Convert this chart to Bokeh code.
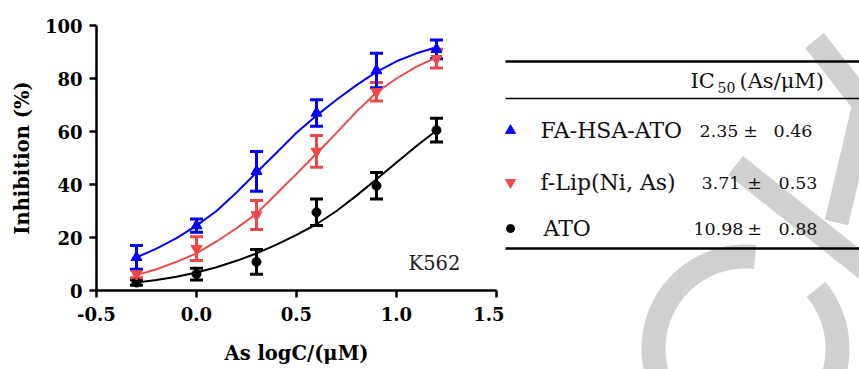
import numpy as np
from bokeh.plotting import figure
from bokeh.models import (Range1d, Whisker, ColumnDataSource, FixedTicker, TeeHead, Label,
                          NumeralTickFormatter, Plot)
from bokeh.layouts import row
from bokeh.embed import file_html
from bokeh.resources import INLINE
from bokeh.core.properties import value

# ---------------- data ----------------
log_conc = [-0.3, 0.0, 0.3, 0.6, 0.9, 1.2]

fa_mean = [12.5, 24.5, 45.0, 67.0, 83.0, 91.0]
fa_err = [4.5, 2.5, 7.5, 5.0, 6.5, 3.5]
lip_mean = [6.3, 15.8, 28.5, 52.5, 75.0, 87.5]
lip_err = [1.5, 4.5, 5.5, 6.0, 3.5, 3.5]
ato_mean = [3.0, 6.2, 10.8, 29.5, 39.5, 60.5]
ato_err = [1.0, 2.2, 4.7, 5.0, 5.0, 4.5]

curve_x = [-0.3, -0.2, -0.1, 0.0, 0.1, 0.2, 0.3, 0.4, 0.5, 0.6, 0.7, 0.8, 0.9, 1.0, 1.1, 1.2]
fa_curve = [12.5, 15.8, 19.8, 24.5, 30.0, 37.0, 44.5, 52.0, 59.5, 66.0, 72.0, 77.5, 82.5, 86.5, 89.5, 91.8]
lip_curve = [5.8, 8.0, 10.8, 14.0, 18.5, 23.5, 29.0, 36.5, 44.0, 51.7, 59.5, 67.5, 74.7, 80.0, 84.5, 88.0]
ato_curve = [3.0, 4.0, 5.2, 6.8, 8.8, 11.2, 14.0, 17.3, 21.0, 25.0, 30.0, 35.8, 42.0, 48.3, 54.5, 60.4]

series_names = ["FA-HSA-ATO", "f-Lip(Ni, As)", "ATO"]
ic50_mean = ["2.35", "3.71", "10.98"]
ic50_sd = ["0.46", "0.53", "0.88"]

x_ticks = [-0.5, 0.0, 0.5, 1.0, 1.5]
y_ticks = [0, 20, 40, 60, 80, 100]

# ---------------- styles ----------------
BLUE = "#0000FF"
RED = "#F04848"
BLACK = "#000000"
SERIF = "DejaVu Serif"
GRAY = "#d0d0d0"

# ---------------- main chart ----------------
p = figure(width=504, height=369, x_range=Range1d(-0.5, 1.5), y_range=Range1d(0, 100),
           output_backend="svg", toolbar_location=None,
           min_border_left=96, min_border_right=8, min_border_top=25, min_border_bottom=79)
p.outline_line_color = None
p.grid.visible = False
p.background_fill_color = "white"

for ax in (p.xaxis[0], p.yaxis[0]):
    ax.axis_line_width = 2.5
    ax.axis_line_color = "black"
    ax.major_tick_line_width = 2.5
    ax.major_tick_out = 7
    ax.major_tick_in = 0
    ax.minor_tick_line_color = None
    ax.major_label_text_font = SERIF
    ax.major_label_text_font_style = "bold"
    ax.major_label_text_font_size = "18px"
    ax.major_label_text_color = "black"
    ax.axis_label_text_font = SERIF
    ax.axis_label_text_font_style = "bold"
    ax.axis_label_text_font_size = "19.5px"
    ax.axis_label_text_color = "black"

p.xaxis.ticker = FixedTicker(ticks=x_ticks)
p.xaxis.formatter = NumeralTickFormatter(format="0.0")
p.yaxis.ticker = FixedTicker(ticks=y_ticks)
p.xaxis.axis_label = "As logC/(\u03bcM)"
p.yaxis.axis_label = "Inhibition (%)"
p.xaxis.major_label_standoff = 9
p.xaxis.axis_label_standoff = 18
p.yaxis.major_label_standoff = 7
p.yaxis.axis_label_standoff = 8

series = [
    (ato_mean, ato_err, ato_curve, BLACK, "circle", 9),
    (lip_mean, lip_err, lip_curve, RED, "inverted_triangle", 11),
    (fa_mean, fa_err, fa_curve, BLUE, "triangle", 11),
]
for mean, err, curve, col, mk, sz in series:
    p.line(curve_x, curve, line_color=col, line_width=2)
    src = ColumnDataSource(dict(x=log_conc,
                                upper=[m + e for m, e in zip(mean, err)],
                                lower=[m - e for m, e in zip(mean, err)]))
    w = Whisker(base="x", upper="upper", lower="lower", source=src,
                line_color=col, line_width=3,
                upper_head=TeeHead(size=13, line_color=col, line_width=3),
                lower_head=TeeHead(size=13, line_color=col, line_width=3))
    p.add_layout(w)
    p.scatter(log_conc, mean, marker=mk, size=sz, fill_color=col, line_color=col)

p.add_layout(Label(x=1.19, y=10.2, text="K562", text_font=SERIF, text_font_size="19.5px",
                   text_align="center", text_baseline="middle", text_color="#222222"))

# ---------------- table panel (coordinates = page pixels) ----------------
can_unalign = "frame_align" in Plot.properties()
if can_unalign:
    q = figure(width=355, height=369, x_range=Range1d(504, 859), y_range=Range1d(369, 0),
               output_backend="svg", toolbar_location=None,
               min_border_left=0, min_border_right=0, min_border_top=0, min_border_bottom=0,
               x_axis_location=None, y_axis_location=None)
    q.frame_align = False
    p.frame_align = False
else:
    q = figure(width=355, height=369, x_range=Range1d(504, 859), y_range=Range1d(290, 25),
               output_backend="svg", toolbar_location=None,
               min_border_left=0, min_border_right=0, min_border_top=25, min_border_bottom=79,
               x_axis_location=None, y_axis_location=None)
q.outline_line_color = None
q.grid.visible = False

# watermark (decoration)
ring_cx, ring_cy, ring_r, band_w = 745, 348, 92, 24
ang = np.radians(np.linspace(84, 400, 200))
q.line(ring_cx + ring_r * np.cos(ang), ring_cy - ring_r * np.sin(ang),
       line_color=GRAY, line_width=band_w, line_cap="butt")
q.multi_line(xs=[[814, 872], [836, 866], [735, 880]],
             ys=[[40, 114], [222, 95], [165, 280]],
             line_color=GRAY, line_width=band_w, line_cap="butt")

# table rules and text
q.segment(x0=[505, 505, 505], y0=[61, 98, 248], x1=[859, 859, 859], y1=[61, 98, 248],
          line_color="black", line_width=[2.5, 1.5, 2.5])

row_y = [130, 182, 228]
txt = dict(text_font=value(SERIF), text_color="#111111", text_baseline="middle")
q.text(x=[690], y=[80], text=["IC"], text_font_size="21px", **txt)
q.text(x=[717], y=[87], text=["50"], text_font_size="14px", **txt)
q.text(x=[739], y=[80], text=["(As/\u03bcM)"], text_font_size="21px", **txt)

q.scatter(x=[510, 510, 510], y=row_y, marker=["triangle", "inverted_triangle", "circle"],
          size=[10, 10, 8], fill_color=[BLUE, RED, BLACK], line_color=[BLUE, RED, BLACK])
q.text(x=[540, 540, 543], y=row_y, text=series_names, text_font_size="22px", **txt)
q.text(x=[738, 740, 743], y=row_y, text=ic50_mean, text_font_size="17.5px", text_align="right", **txt)
q.text(x=[750, 754, 754], y=row_y, text=["\u00b1"] * 3, text_font_size="17.5px", text_align="center", **txt)
q.text(x=[773, 778, 778], y=row_y, text=ic50_sd, text_font_size="17.5px", text_align="left", **txt)

layout = row(p, q, spacing=0)
open("out.html", "w").write(file_html(layout, INLINE))
